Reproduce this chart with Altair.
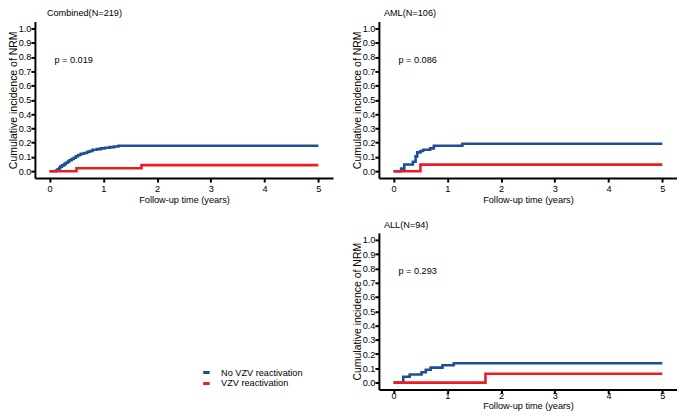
import altair as alt
import pandas as pd

# ---- data ----
groups = ["No VZV reactivation", "VZV reactivation"]
colors = ["#1c4f96", "#ec1c24"]

comb_blue_t = [0, 0.12, 0.15, 0.18, 0.2, 0.23, 0.27, 0.3, 0.34, 0.37, 0.41, 0.45, 0.49, 0.53,
               0.58, 0.64, 0.7, 0.75, 0.8, 0.88, 0.95, 1.03, 1.12, 1.2, 1.28, 5]
comb_blue_v = [0, 0.005, 0.014, 0.023, 0.032, 0.041, 0.05, 0.059, 0.068, 0.077, 0.086, 0.095, 0.105,
               0.114, 0.123, 0.128, 0.137, 0.142, 0.151, 0.155, 0.16, 0.164, 0.169, 0.173, 0.178, 0.178]
comb_red_t = [0, 0.5, 1.71, 5]
comb_red_v = [0, 0.021, 0.043, 0.043]

aml_blue_t = [0, 0.14, 0.2, 0.36, 0.41, 0.44, 0.5, 0.55, 0.68, 0.75, 1.28, 5]
aml_blue_v = [0, 0.018, 0.047, 0.066, 0.104, 0.132, 0.142, 0.151, 0.16, 0.179, 0.193, 0.193]
aml_red_t = [0, 0.5, 5]
aml_red_v = [0, 0.046, 0.046]

all_blue_t = [0, 0.18, 0.3, 0.52, 0.6, 0.69, 0.91, 1.12, 5]
all_blue_v = [0, 0.041, 0.057, 0.073, 0.09, 0.105, 0.121, 0.135, 0.135]
all_red_t = [0, 1.71, 5]
all_red_v = [0, 0.062, 0.062]

titles = ["Combined(N=219)", "AML(N=106)", "ALL(N=94)"]
pvals = ["p = 0.019", "p = 0.086", "p = 0.293"]
p_pos = [0.09, 0.78]

x_ticks = [0, 1, 2, 3, 4, 5]
y_ticks = [0.0, 0.1, 0.2, 0.3, 0.4, 0.5, 0.6, 0.7, 0.8, 0.9, 1.0]

FONT = "Liberation Sans"
FS = 9.2
W, H = 299, 157


def panel(bt, bv, rt, rv, title, pval, title_dx, x_lab_pad, x_title_pad):
    df = pd.DataFrame({
        "group": [groups[0]] * len(bt) + [groups[1]] * len(rt),
        "time": bt + rt,
        "value": bv + rv,
    })
    xenc = alt.X("time:Q", scale=alt.Scale(domain=[-0.273, 5.273], nice=False, zero=False),
                 axis=alt.Axis(values=x_ticks, title="Follow-up time (years)", format="d",
                               labelPadding=x_lab_pad, titlePadding=x_title_pad))
    yenc = alt.Y("value:Q", scale=alt.Scale(domain=[-0.048, 1.048], nice=False, zero=False),
                 axis=alt.Axis(values=y_ticks, title="Cumulative incidence of NRM", format=".1f"))
    lines = alt.Chart(df).mark_line(interpolate="step-after", strokeWidth=2.6).encode(
        x=xenc, y=yenc,
        color=alt.Color("group:N", scale=alt.Scale(domain=groups, range=colors),
                        legend=alt.Legend(title=None, orient="none", legendX=165.5, legendY=347,
                                          symbolType="M-0.65,0H0.65", symbolStrokeWidth=3,
                                          symbolSize=100, labelFontSize=FS, labelFont=FONT,
                                          labelColor="black", rowPadding=0, clipHeight=10,
                                          labelLimit=0, labelOffset=8.2, padding=0)),
    )
    tdf = pd.DataFrame({"time": [p_pos[0]], "value": [p_pos[1]], "t": [pval]})
    text = alt.Chart(tdf).mark_text(align="left", baseline="middle", fontSize=FS, font=FONT,
                                    color="black").encode(x=xenc, y=yenc, text="t:N")
    return alt.layer(lines, text).properties(
        width=W, height=H,
        title=alt.TitleParams(title, anchor="start", frame="group", fontSize=FS, font=FONT,
                              fontWeight="normal", color="black", offset=3, dx=title_dx),
    )


p1 = panel(comb_blue_t, comb_blue_v, comb_red_t, comb_red_v, titles[0], pvals[0], 12, 2, 2)
p2 = panel(aml_blue_t, aml_blue_v, aml_red_t, aml_red_v, titles[1], pvals[1], 5, 2, 2)
p3 = panel(all_blue_t, all_blue_v, all_red_t, all_red_v, titles[2], pvals[2], 5, -2, 1)

chart = alt.hconcat(p1, alt.vconcat(p2, p3, spacing=15), spacing=19).properties(
    padding=0
).configure_axis(
    grid=False, domainColor="black", domainWidth=2, tickColor="black", tickWidth=2, tickSize=4,
    labelFont=FONT, labelFontSize=FS, labelColor="black",
    titleFont=FONT, titleFontSize=FS, titleFontWeight="normal", titleColor="black",
).configure_axisY(labelPadding=0, titlePadding=0, titleFontSize=10.5).configure_view(stroke=None)

chart.save("out.html", embed_options={"renderer": "svg", "actions": False})
